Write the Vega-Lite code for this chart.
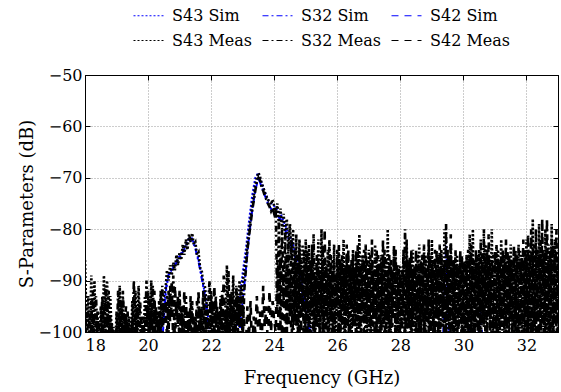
{
  "$schema": "https://vega.github.io/schema/vega-lite/v6.json",
  "autosize": "none",
  "width": 473,
  "height": 257,
  "padding": {"left": 85, "top": 75, "right": 3, "bottom": 60},
  "background": "white",
  "config": {
    "font": "DejaVu Serif",
    "view": {"stroke": "black", "strokeWidth": 1},
    "axis": {
      "labelFont": "DejaVu Serif",
      "titleFont": "DejaVu Serif",
      "labelFontSize": 16,
      "titleFontSize": 18,
      "titleFontWeight": "normal",
      "labelColor": "black",
      "titleColor": "black",
      "domainColor": "black",
      "tickColor": "black",
      "tickSize": -5,
      "gridColor": "#9a9a9a",
      "gridDash": [1, 2],
      "gridOpacity": 1,
      "gridWidth": 1
    },
    "legend": {
      "labelFont": "DejaVu Serif",
      "labelFontSize": 16,
      "labelColor": "black"
    }
  },
  "layer": [
    {
      "data": {
        "format": {"type": "csv"},
        "values": "f,series,dB\n18,S43 Sim,-110\n20.3,S43 Sim,-106\n20.55,S43 Sim,-92.5\n20.65,S43 Sim,-89\n20.8,S43 Sim,-87.3\n21.0,S43 Sim,-85.2\n21.2,S43 Sim,-83\n21.3,S43 Sim,-81.7\n21.4,S43 Sim,-81.8\n21.5,S43 Sim,-83.5\n21.6,S43 Sim,-86\n21.7,S43 Sim,-89.2\n21.8,S43 Sim,-92.5\n21.9,S43 Sim,-97\n22.1,S43 Sim,-106\n22.8,S43 Sim,-100\n23.0,S43 Sim,-88.5\n23.1,S43 Sim,-84\n23.2,S43 Sim,-78.5\n23.3,S43 Sim,-73.5\n23.4,S43 Sim,-70\n23.5,S43 Sim,-69\n23.6,S43 Sim,-71\n23.8,S43 Sim,-74.3\n24.0,S43 Sim,-75.5\n24.2,S43 Sim,-77\n24.4,S43 Sim,-80\n24.6,S43 Sim,-83\n24.8,S43 Sim,-88\n25.0,S43 Sim,-95\n25.4,S43 Sim,-106\n26,S43 Sim,-112\n33,S43 Sim,-112\n18,S32 Sim,-112\n20.4,S32 Sim,-106\n20.6,S32 Sim,-89.3\n20.8,S32 Sim,-87.6\n21.0,S32 Sim,-85.5\n21.2,S32 Sim,-83.3\n21.3,S32 Sim,-82\n21.4,S32 Sim,-82.1\n21.5,S32 Sim,-83.8\n21.6,S32 Sim,-86.3\n21.7,S32 Sim,-89.5\n21.8,S32 Sim,-93\n22.0,S32 Sim,-104\n22.4,S32 Sim,-110\n22.9,S32 Sim,-100\n23.1,S32 Sim,-88\n23.2,S32 Sim,-81.5\n23.3,S32 Sim,-76.5\n23.4,S32 Sim,-72.5\n23.5,S32 Sim,-70\n23.6,S32 Sim,-71.8\n23.8,S32 Sim,-75\n24.0,S32 Sim,-77\n24.2,S32 Sim,-78\n24.4,S32 Sim,-81\n24.7,S32 Sim,-86\n25.0,S32 Sim,-96\n25.3,S32 Sim,-106\n26,S32 Sim,-112\n33,S32 Sim,-112\n18,S42 Sim,-115\n29.3,S42 Sim,-112\n29.45,S42 Sim,-83\n29.6,S42 Sim,-112\n30.0,S42 Sim,-112\n30.2,S42 Sim,-97\n30.3,S42 Sim,-112\n30.55,S42 Sim,-96\n30.7,S42 Sim,-112\n33,S42 Sim,-115"
      },
      "mark": {"type": "line", "clip": true, "strokeWidth": 2},
      "encoding": {
        "x": {
          "field": "f", "type": "quantitative",
          "scale": {"domain": [18, 33], "nice": false, "zero": false},
          "axis": {
            "orient": "bottom",
            "values": [18, 20, 22, 24, 26, 28, 30, 32],
            "title": "Frequency (GHz)",
            "labelPadding": 10,
            "titlePadding": 16,
            "grid": true
          }
        },
        "y": {
          "field": "dB", "type": "quantitative",
          "scale": {"domain": [-100, -50], "nice": false, "zero": false},
          "axis": {
            "orient": "left",
            "values": [-100, -90, -80, -70, -60, -50],
            "title": "S-Parameters (dB)",
            "labelPadding": 8,
            "titlePadding": 2,
            "grid": true
          }
        },
        "color": {
          "field": "series", "type": "nominal",
          "scale": {
            "domain": ["S43 Sim", "S32 Sim", "S42 Sim", "S43 Meas", "S32 Meas", "S42 Meas"],
            "range": ["#0000ff", "#0000ff", "#0000ff", "#000000", "#000000", "#000000"]
          },
          "legend": {
            "title": null,
            "orient": "none",
            "direction": "horizontal",
            "legendX": 48,
            "legendY": -75,
            "columns": 3,
            "symbolType": "stroke",
            "symbolSize": 900,
            "symbolStrokeWidth": 1,
            "labelOffset": 8,
            "columnPadding": 7,
            "rowPadding": 1
          }
        },
        "strokeDash": {
          "field": "series", "type": "nominal",
          "scale": {
            "domain": ["S43 Sim", "S32 Sim", "S42 Sim", "S43 Meas", "S32 Meas", "S42 Meas"],
            "range": [[2, 2], [6, 3, 2, 3], [7, 6], [2, 2], [6, 3, 2, 3], [7, 6]]
          },
          "legend": {
            "title": null,
            "orient": "none",
            "direction": "horizontal",
            "legendX": 48,
            "legendY": -75,
            "columns": 3,
            "symbolType": "stroke",
            "symbolSize": 900,
            "symbolStrokeWidth": 1,
            "labelOffset": 8,
            "columnPadding": 7,
            "rowPadding": 1
          }
        }
      }
    },
    {
      "data": {
        "format": {"type": "csv"},
        "values": "f,S43 Meas,S32 Meas,S42 Meas\n18.00,-86,-92,-97\n18.05,-99,-104,-101\n18.10,-93,-96,-100\n18.15,-103,-99,-105\n18.20,-89,-94,-98\n18.25,-101,-105,-92\n18.30,-90,-97,-103\n18.35,-104,-93,-99\n18.40,-97,-102,-96\n18.45,-105,-98,-103\n18.50,-95,-100,-104\n18.55,-102,-93,-99\n18.60,-89,-104,-95\n18.65,-100,-91,-103\n18.70,-90,-99,-94\n18.75,-103,-92,-101\n18.80,-93,-105,-97\n18.85,-101,-98,-106\n18.90,-99,-103,-100\n18.95,-106,-100,-104\n19.00,-96,-104,-99\n19.05,-103,-92,-101\n19.10,-91,-100,-96\n19.15,-101,-94,-104\n19.20,-93,-103,-92\n19.25,-104,-97,-100\n19.30,-98,-102,-95\n19.35,-102,-96,-105\n19.40,-97,-104,-99\n19.45,-105,-99,-102\n19.50,-94,-101,-97\n19.55,-100,-90,-104\n19.60,-92,-102,-96\n19.65,-103,-95,-100\n19.70,-91,-99,-104\n19.75,-102,-94,-98\n19.80,-97,-104,-101\n19.85,-104,-99,-97\n19.90,-93,-101,-104\n19.95,-100,-90,-98\n20.00,-92,-103,-95\n20.05,-104,-93,-100\n20.10,-90,-99,-96\n20.15,-101,-91,-103\n20.20,-94,-100,-92\n20.25,-99,-95,-104\n20.30,-96,-103,-97\n20.35,-102,-94,-100\n20.40,-92,-100,-96\n20.45,-99,-91,-103\n20.50,-93,-98,-95\n20.55,-92,-98,-94\n20.60,-88,-93,-101\n20.65,-90,-100,-92\n20.70,-87,-91,-98\n20.75,-89,-97,-90\n20.80,-86.5,-89,-103\n20.85,-88,-102,-91\n20.90,-85,-94,-97\n20.95,-87,-99,-93\n21.00,-84.5,-92,-104\n21.05,-86,-104,-95\n21.10,-83,-95,-100\n21.15,-85,-101,-92\n21.20,-82,-93,-105\n21.25,-84,-103,-96\n21.30,-81,-96,-101\n21.35,-82.5,-100,-93\n21.40,-80.8,-94,-104\n21.45,-83,-105,-97\n21.50,-82.5,-97,-100\n21.55,-85,-101,-94\n21.60,-84.5,-92,-103\n21.65,-87.5,-104,-96\n21.70,-88,-95,-101\n21.75,-90.5,-100,-92\n21.80,-91,-93,-104\n21.85,-94,-103,-97\n21.90,-98,-95,-101\n21.95,-103,-90,-97\n22.00,-92,-102,-93\n22.05,-100,-94,-104\n22.10,-95,-100,-91\n22.15,-104,-93,-99\n22.20,-97,-104,-95\n22.25,-101,-96,-102\n22.30,-93,-101,-94\n22.35,-105,-92,-100\n22.40,-96,-103,-89\n22.45,-99,-95,-101\n22.50,-87,-100,-96\n22.55,-102,-88,-104\n22.60,-94,-103,-93\n22.65,-100,-92,-99\n22.70,-89,-101,-95\n22.75,-103,-94,-102\n22.80,-91,-104,-92\n22.85,-98,-93,-100\n22.90,-90,-99,-94\n22.95,-95,-91,-103\n23.00,-90.5,-102,-93\n23.05,-88,-92,-99\n23.10,-86,-88,-103\n23.15,-83,-84,-95\n23.20,-80.5,-81.5,-101\n23.25,-78,-79,-94\n23.30,-75.5,-76.5,-104\n23.35,-73.5,-74.5,-97\n23.40,-71.5,-72.5,-100\n23.45,-70,-70.8,-93\n23.50,-69,-70,-102\n23.55,-69.8,-70.5,-96\n23.60,-71,-71.8,-104\n23.65,-71.8,-72.5,-91\n23.70,-72.8,-73.5,-99\n23.75,-73.5,-74.2,-95\n23.80,-74.3,-75,-103\n23.85,-74.5,-75.6,-92\n23.90,-75.2,-76.5,-100\n23.95,-74.2,-75.8,-94\n24.00,-75.5,-77,-98\n24.05,-77,-76,-100\n24.10,-75,-96,-86\n24.15,-79,-78,-104\n24.20,-76,-99,-84\n24.25,-80,-80,-102\n24.30,-77,-94,-87\n24.35,-82,-81,-105\n24.40,-78,-101,-85\n24.45,-84,-83,-99\n24.50,-79,-97,-88\n24.55,-86,-82,-103\n24.60,-80,-104,-86\n24.65,-95,-84,-98\n24.70,-81,-99,-87\n24.75,-100,-85,-104\n24.80,-82,-102,-84\n24.85,-97,-86,-100\n24.90,-83,-97,-88\n24.95,-104,-84,-105\n25.00,-82,-103,-86\n25.05,-98,-84,-101\n25.10,-83,-102,-87\n25.15,-104,-86,-96\n25.20,-85,-97,-83\n25.25,-100,-81,-105\n25.30,-87,-103,-89\n25.35,-95,-85,-99\n25.40,-82,-99,-86\n25.45,-105,-88,-102\n25.50,-80,-96,-88\n25.55,-101,-83,-104\n25.60,-86,-105,-80\n25.65,-97,-87,-100\n25.70,-84,-100,-89\n25.75,-103,-82,-95\n25.80,-88,-98,-85\n25.85,-99,-86,-106\n25.90,-83,-104,-87\n25.95,-106,-89,-97\n26.00,-85,-95,-84\n26.05,-100,-83,-103\n26.10,-87,-101,-86\n26.15,-96,-85,-99\n26.20,-82,-106,-88\n26.25,-104,-87,-101\n26.30,-86,-97,-83\n26.35,-99,-84,-105\n26.40,-88,-102,-87\n26.45,-103,-86,-96\n26.50,-84,-99,-85\n26.55,-97,-88,-102\n26.60,-86,-104,-84\n26.65,-105,-83,-98\n26.70,-81,-100,-88\n26.75,-101,-87,-104\n26.80,-85,-96,-86\n26.85,-98,-84,-100\n26.90,-87,-103,-83\n26.95,-102,-86,-97\n27.00,-84,-99,-88\n27.05,-106,-85,-103\n27.10,-86,-101,-82\n27.15,-96,-88,-99\n27.20,-83,-105,-86\n27.25,-100,-84,-102\n27.30,-88,-97,-85\n27.35,-103,-86,-106\n27.40,-85,-100,-87\n27.45,-99,-82,-96\n27.50,-87,-104,-84\n27.55,-101,-86,-100\n27.60,-80,-98,-88\n27.65,-105,-85,-103\n27.70,-86,-102,-86\n27.75,-97,-88,-99\n27.80,-84,-96,-83\n27.85,-102,-84,-105\n27.90,-88,-100,-87\n27.95,-104,-87,-97\n28.00,-87,-103,-89\n28.05,-99,-88,-101\n28.10,-85,-97,-84\n28.15,-106,-80,-104\n28.20,-82,-101,-86\n28.25,-98,-86,-99\n28.30,-86,-105,-85\n28.35,-103,-84,-102\n28.40,-84,-99,-88\n28.45,-100,-87,-96\n28.50,-88,-102,-84\n28.55,-96,-85,-105\n28.60,-83,-100,-87\n28.65,-104,-86,-100\n28.70,-87,-97,-85\n28.75,-101,-83,-103\n28.80,-85,-104,-86\n28.85,-98,-88,-97\n28.90,-84,-100,-82\n28.95,-105,-85,-104\n29.00,-82,-96,-87\n29.05,-100,-86,-101\n29.10,-87,-103,-84\n29.15,-97,-84,-99\n29.20,-85,-101,-86\n29.25,-103,-83,-105\n29.30,-84,-99,-85\n29.35,-99,-87,-96\n29.40,-80,-104,-86\n29.45,-104,-79,-102\n29.50,-86,-98,-84\n29.55,-100,-85,-100\n29.60,-83,-102,-81\n29.65,-97,-86,-104\n29.70,-87,-100,-86\n29.75,-105,-84,-98\n29.80,-85,-103,-87\n29.85,-99,-87,-101\n29.90,-86,-97,-84\n29.95,-102,-85,-105\n30.00,-88,-100,-86\n30.05,-104,-86,-99\n30.10,-85,-105,-87\n30.15,-98,-84,-103\n30.20,-81,-101,-85\n30.25,-100,-83,-97\n30.30,-80,-104,-86\n30.35,-103,-86,-102\n30.40,-86,-99,-84\n30.45,-97,-85,-100\n30.50,-84,-103,-87\n30.55,-105,-82,-104\n30.60,-86,-98,-85\n30.65,-99,-80,-99\n30.70,-83,-102,-86\n30.75,-101,-84,-103\n30.80,-85,-97,-81\n30.85,-98,-86,-100\n30.90,-80,-104,-86\n30.95,-104,-85,-98\n31.00,-86,-100,-84\n31.05,-100,-83,-105\n31.10,-84,-103,-86\n31.15,-97,-86,-101\n31.20,-82,-99,-85\n31.25,-105,-84,-99\n31.30,-85,-101,-87\n31.35,-99,-82,-104\n31.40,-86,-105,-84\n31.45,-103,-85,-98\n31.50,-83,-98,-86\n31.55,-100,-86,-102\n31.60,-85,-102,-83\n31.65,-98,-84,-100\n31.70,-87,-100,-85\n31.75,-104,-83,-105\n31.80,-84,-99,-86\n31.85,-101,-85,-97\n31.90,-86,-104,-82\n31.95,-97,-84,-103\n32.00,-82,-101,-85\n32.05,-105,-81,-100\n32.10,-84,-98,-86\n32.15,-100,-80,-104\n32.20,-78,-103,-84\n32.25,-103,-83,-99\n32.30,-85,-100,-80\n32.35,-98,-84,-102\n32.40,-79,-105,-85\n32.45,-104,-82,-100\n32.50,-84,-99,-78\n32.55,-99,-85,-104\n32.60,-80,-102,-84\n32.65,-102,-78,-98\n32.70,-83,-100,-86\n32.75,-100,-84,-103\n32.80,-79,-104,-82\n32.85,-105,-83,-100\n32.90,-82,-98,-85\n32.95,-99,-80,-104\n33.00,-84,-101,-86"
      },
      "transform": [
        {"fold": ["S43 Meas", "S32 Meas", "S42 Meas"], "as": ["series", "dB"]}
      ],
      "mark": {"type": "line", "clip": true, "strokeWidth": 2.6},
      "encoding": {
        "x": {
          "field": "f", "type": "quantitative",
          "axis": {
            "orient": "top",
            "values": [18, 20, 22, 24, 26, 28, 30, 32],
            "labels": false,
            "title": null,
            "grid": false,
            "domain": true
          }
        },
        "y": {
          "field": "dB", "type": "quantitative",
          "axis": {
            "orient": "right",
            "values": [-100, -90, -80, -70, -60, -50],
            "labels": false,
            "title": null,
            "grid": false,
            "domain": true
          }
        },
        "color": {"field": "series", "type": "nominal"},
        "strokeDash": {"field": "series", "type": "nominal"}
      }
    }
  ],
  "resolve": {"axis": {"x": "independent", "y": "independent"}}
}
